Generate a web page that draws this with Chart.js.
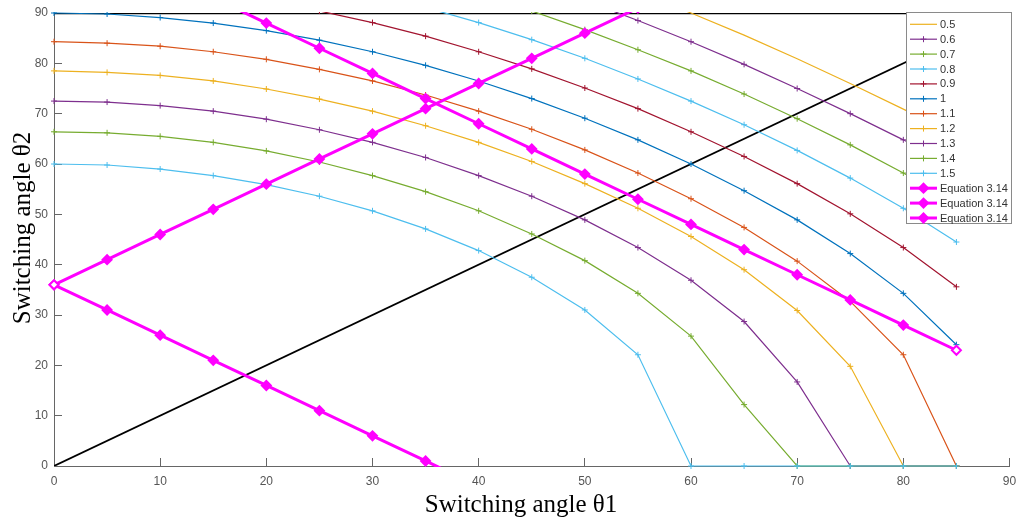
<!DOCTYPE html>
<html>
<head>
<meta charset="utf-8">
<script src="https://cdn.jsdelivr.net/npm/chart.js@4/dist/chart.umd.min.js"></script>
<style>
  html, body { margin: 0; padding: 0; background: #fff; }
  #wrap { width: 1016px; height: 519px; }
</style>
</head>
<body>
<div id="wrap"><canvas id="chart" width="1016" height="519"></canvas></div>
<script>
// Abscisses : angle de commutation θ1 (pas de 5°)
const angles = [0, 5, 10, 15, 20, 25, 30, 35, 40, 45, 50, 55, 60, 65, 70, 75, 80, 85];

// Courbes θ2 pour chaque indice de modulation (null = hors du graphique)
const m05 = [null, null, null, null, null, null, null, null, null, null, null, 94.2, 90, 85.6, 80.9, 76.0, 70.9, 65.6];
const m06 = [null, null, null, null, null, null, null, null, null, null, 92.5, 88.5, 84.3, 79.8, 75.0, 70.0, 64.8, 59.1];
const m07 = [null, null, null, null, null, null, null, null, 93.8, 90.4, 86.7, 82.7, 78.5, 73.9, 69.0, 63.8, 58.2, 52.2];
const m08 = [null, null, null, null, null, null, 93.8, 91.1, 88.1, 84.7, 81.0, 76.9, 72.5, 67.8, 62.7, 57.2, 51.2, 44.5];
const m09 = [null, null, null, null, 92.3, 90.4, 88.1, 85.4, 82.3, 78.9, 75.1, 71.0, 66.4, 61.5, 56.1, 50.1, 43.4, 35.6];
const m10 = [90, 89.8, 89.1, 88.0, 86.5, 84.6, 82.3, 79.6, 76.5, 73.0, 69.1, 64.8, 60.0, 54.7, 48.9, 42.2, 34.3, 24.1];
const m11 = [84.3, 84.0, 83.4, 82.3, 80.8, 78.8, 76.5, 73.7, 70.5, 66.9, 62.8, 58.2, 53.1, 47.4, 40.7, 32.7, 22.1, 0];
const m12 = [78.5, 78.2, 77.6, 76.5, 74.9, 72.9, 70.5, 67.6, 64.3, 60.5, 56.1, 51.2, 45.6, 39.0, 30.9, 19.8, 0, 0];
const m13 = [72.5, 72.3, 71.6, 70.5, 68.9, 66.8, 64.3, 61.3, 57.7, 53.6, 48.9, 43.4, 36.9, 28.7, 16.7, 0, 0, 0];
const m14 = [66.4, 66.2, 65.5, 64.3, 62.6, 60.4, 57.7, 54.5, 50.7, 46.1, 40.8, 34.3, 25.8, 12.2, 0, 0, 0, 0];
const m15 = [60.0, 59.8, 59.0, 57.7, 55.9, 53.6, 50.7, 47.1, 42.8, 37.5, 31.0, 22.1, 0, 0, 0, 0, 0, 0];

// Droites "Equation 3.14"
const eqA = [36, 41, 46, 51, 56, 61, 66, 71, 76, 81, 86, 91, null, null, null, null, null, null];
const eqB = [null, null, null, 93, 88, 83, 78, 73, 68, 63, 58, 53, 48, 43, 38, 33, 28, 23];
const eqC = [36, 31, 26, 21, 16, 11, 6, 1, -4, null, null, null, null, null, null, null, null, null];

// Droites noires de référence
const refX = [0, 90];
const diagY = [0, 90];
const topY = [90, 90];

// Graduations des axes
const xTicks = [0, 10, 20, 30, 40, 50, 60, 70, 80, 90];
const yTicks = [0, 10, 20, 30, 40, 50, 60, 70, 80, 90];

const pts = (xs, ys) => xs.map((x, i) => ({ x: x, y: ys[i] }));

function curve(label, ys, color, marker) {
  return {
    label: label,
    data: pts(angles, ys),
    borderColor: color,
    backgroundColor: color,
    borderWidth: 1.2,
    pointStyle: 'cross',
    pointRadius: marker ? 3 : 0,
    pointBorderWidth: 1,
    pointBorderColor: color,
    clip: { left: 4, right: 4, top: 1, bottom: 4 },
    inLegend: true
  };
}

function equation(ys, hollowIndex) {
  return {
    label: 'Equation 3.14',
    data: pts(angles, ys),
    borderColor: '#ff00ff',
    backgroundColor: '#ff00ff',
    borderWidth: 3,
    pointStyle: 'rectRot',
    pointRadius: 4.5,
    pointBorderWidth: 2,
    pointBorderColor: '#ff00ff',
    pointBackgroundColor: ctx => (ctx.dataIndex === hollowIndex ? '#ffffff' : '#ff00ff'),
    clip: { left: 7, right: 7, top: 1, bottom: 1 },
    inLegend: true
  };
}

const datasets = [
  { label: 'diag', data: pts(refX, diagY), borderColor: '#000', borderWidth: 1.8, pointRadius: 0, inLegend: false },
  { label: 'top', data: pts(refX, topY), borderColor: '#000', borderWidth: 2.6, pointRadius: 0, inLegend: false },
  curve('0.5', m05, '#EDB120', false),
  curve('0.6', m06, '#7E2F8E', true),
  curve('0.7', m07, '#77AC30', true),
  curve('0.8', m08, '#4DBEEE', true),
  curve('0.9', m09, '#A2142F', true),
  curve('1', m10, '#0072BD', true),
  curve('1.1', m11, '#D95319', true),
  curve('1.2', m12, '#EDB120', true),
  curve('1.3', m13, '#7E2F8E', true),
  curve('1.4', m14, '#77AC30', true),
  curve('1.5', m15, '#4DBEEE', true),
  equation(eqA, -1),
  equation(eqB, eqB.length - 1),
  equation(eqC, 0)
];
// les derniers tracés passent au-dessus (comme MATLAB)
datasets.forEach((d, i) => { d.order = datasets.length - i; });

// Légende dessinée dans la zone du graphique, en haut à droite
const boxLegend = {
  id: 'boxLegend',
  afterDraw(chart) {
    const ctx = chart.ctx;
    const items = chart.data.datasets.filter(d => d.inLegend);
    const L = 906.5, T = 12.5, R = 1011.5, B = 223.5;
    ctx.save();
    ctx.fillStyle = '#fff';
    ctx.fillRect(L, T, R - L, B - T);
    ctx.strokeStyle = '#8a8a8a';
    ctx.lineWidth = 1;
    ctx.strokeRect(L, T, R - L, B - T);
    ctx.font = '11px "Liberation Sans", Arial, sans-serif';
    ctx.textBaseline = 'middle';
    items.forEach((d, i) => {
      const y = 24.3 + i * 14.9;
      ctx.strokeStyle = d.borderColor;
      ctx.lineWidth = d.borderWidth;
      ctx.beginPath();
      ctx.moveTo(910, y);
      ctx.lineTo(937, y);
      ctx.stroke();
      if (d.pointRadius > 0) {
        ctx.fillStyle = d.borderColor;
        ctx.lineWidth = d.pointBorderWidth;
        Chart.helpers.drawPoint(ctx, { pointStyle: d.pointStyle, radius: d.pointRadius, rotation: 0, borderWidth: d.pointBorderWidth }, 923.5, y);
      }
      ctx.fillStyle = '#333';
      ctx.fillText(d.label, 940, y + 0.5);
    });
    ctx.restore();
  }
};

// Titres des axes (police serif)
const axisTitles = {
  id: 'axisTitles',
  afterDraw(chart) {
    const ctx = chart.ctx;
    ctx.save();
    ctx.fillStyle = '#000';
    ctx.font = '25px "Liberation Serif", "Times New Roman", serif';
    ctx.textAlign = 'center';
    ctx.textBaseline = 'alphabetic';
    ctx.fillText('Switching angle θ1', 521, 512);
    ctx.translate(30, 228);
    ctx.rotate(-Math.PI / 2);
    ctx.fillText('Switching angle θ2', 0, 0);
    ctx.restore();
  }
};

const tickFont = { family: '"Liberation Sans", Arial, sans-serif', size: 12 };

// taille fixe des axes, sans marge ajoutée pour les étiquettes
function fixSize(s, w, h) {
  if (w) s.width = w;
  if (h) s.height = h;
  s.paddingLeft = 0;
  s.paddingRight = 0;
  s.paddingTop = 0;
  s.paddingBottom = 0;
}

new Chart(document.getElementById('chart'), {
  type: 'line',
  data: { datasets: datasets },
  options: {
    responsive: false,
    animation: false,
    events: [],
    layout: { padding: { top: 13, right: 6, bottom: 0, left: 0 } },
    plugins: { legend: { display: false }, tooltip: { enabled: false } },
    scales: {
      x: {
        type: 'linear', min: 0, max: 90,
        afterBuildTicks: s => { s.ticks = xTicks.map(v => ({ value: v })); },
        ticks: { color: '#555', font: tickFont, padding: 16, maxRotation: 0 },
        grid: { drawOnChartArea: false, tickLength: -8, color: '#666' },
        border: { color: '#666', width: 1 },
        afterFit: s => fixSize(s, 0, 53)
      },
      y: {
        type: 'linear', min: 0, max: 90,
        afterBuildTicks: s => { s.ticks = yTicks.map(v => ({ value: v })); },
        ticks: { color: '#555', font: tickFont, padding: 14 },
        grid: { drawOnChartArea: false, tickLength: -8, color: '#666' },
        border: { color: '#666', width: 1 },
        afterFit: s => fixSize(s, 54, 0)
      }
    }
  },
  plugins: [boxLegend, axisTitles]
});
</script>
</body>
</html>
